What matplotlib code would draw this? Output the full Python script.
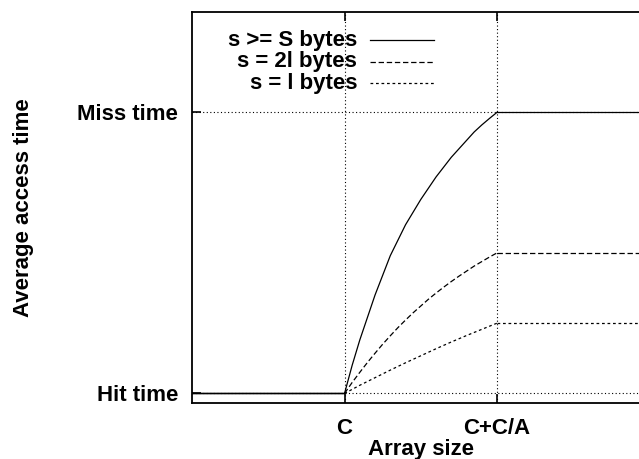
import matplotlib
matplotlib.use("Agg")
import matplotlib.pyplot as plt
from matplotlib.lines import Line2D

# ---- data (x in units of C; C = 1, C + C/A = 2) ----
x_ticks = [1, 2]
x_tick_labels = ["C", "C+C/A"]
y_ticks = [0, 1]
y_tick_labels = ["Hit time", "Miss time"]

x_flat_left = [0.0, 1.0]
x_rise = [1.0, 1.05, 1.1, 1.15, 1.2, 1.25, 1.3, 1.35, 1.4, 1.45, 1.5,
          1.55, 1.6, 1.65, 1.7, 1.75, 1.8, 1.85, 1.9, 1.95, 2.0]
x_flat_right = [2.0, 3.0]

series_labels = ["s >= S bytes", "s = 2l bytes", "s = l bytes"]
rise_S = [0.0, 0.10, 0.19, 0.27, 0.35, 0.42, 0.49, 0.545, 0.60, 0.645, 0.69,
          0.73, 0.77, 0.805, 0.84, 0.87, 0.90, 0.93, 0.955, 0.978, 1.0]
rise_2l = [0.0, 0.039, 0.075, 0.110, 0.143, 0.175, 0.205, 0.234, 0.261, 0.287, 0.311,
           0.335, 0.357, 0.378, 0.398, 0.417, 0.435, 0.453, 0.469, 0.485, 0.5]
rise_l = [0.0, 0.0145, 0.029, 0.0425, 0.056, 0.0695, 0.083, 0.096, 0.109, 0.1215, 0.134,
          0.1465, 0.159, 0.171, 0.183, 0.1945, 0.206, 0.217, 0.228, 0.239, 0.25]
rises = [rise_S, rise_2l, rise_l]

styles = ["-", (0, (4.3, 2.2)), (0, (2.2, 2.2))]

plt.rcParams["font.family"] = ["Liberation Sans", "DejaVu Sans"]
plt.rcParams["font.weight"] = "bold"

fig = plt.figure(figsize=(6.39, 4.59), dpi=100)
ax = fig.add_axes([0.3005, 0.122, 0.716, 0.852])

ax.set_xlim(0, 3)
ax.set_ylim(-0.034, 1.357)

# grid
for xv in x_ticks:
    ax.axvline(xv, color="black", lw=0.8, ls=(0, (1, 2.2)), zorder=1)
for yv in y_ticks:
    ax.axhline(yv, color="black", lw=0.8, ls=(0, (1, 2.2)), zorder=1)

for rise, st in zip(rises, styles):
    ax.plot(x_flat_left, [0, 0], color="black", lw=0.9, ls="-", zorder=3)
    ax.plot(x_rise, rise, color="black", lw=0.9, ls=st, zorder=3)
    ax.plot(x_flat_right, [rise[-1], rise[-1]], color="black", lw=0.9, ls=st, zorder=3)

ax.set_xticks(x_ticks)
ax.set_xticklabels(x_tick_labels, fontsize=16, fontweight="bold")
ax.set_yticks(y_ticks)
ax.set_yticklabels(y_tick_labels, fontsize=16, fontweight="bold")
ax.tick_params(direction="in", length=6.5, width=1.2, top=True, right=True)
ax.tick_params(axis="x", pad=11)
ax.tick_params(axis="y", pad=10)

for sp in ax.spines.values():
    sp.set_linewidth(1.3)

ax.set_xlabel("Array size", fontsize=16, fontweight="bold", labelpad=0)
ax.set_ylabel("Average access time", fontsize=16, fontweight="bold", labelpad=31)

# manual legend (right-aligned text, sample line after)
leg_y = [0.928, 0.872, 0.818]
for lab, st, yy in zip(series_labels, styles, leg_y):
    ax.text(0.361, yy, lab, transform=ax.transAxes, ha="right", va="center",
            fontsize=16, fontweight="bold")
    ax.add_line(Line2D([0.389, 0.529], [yy, yy], transform=ax.transAxes,
                       color="black", lw=0.9, ls=st))

fig.savefig("out.png", dpi=100)
